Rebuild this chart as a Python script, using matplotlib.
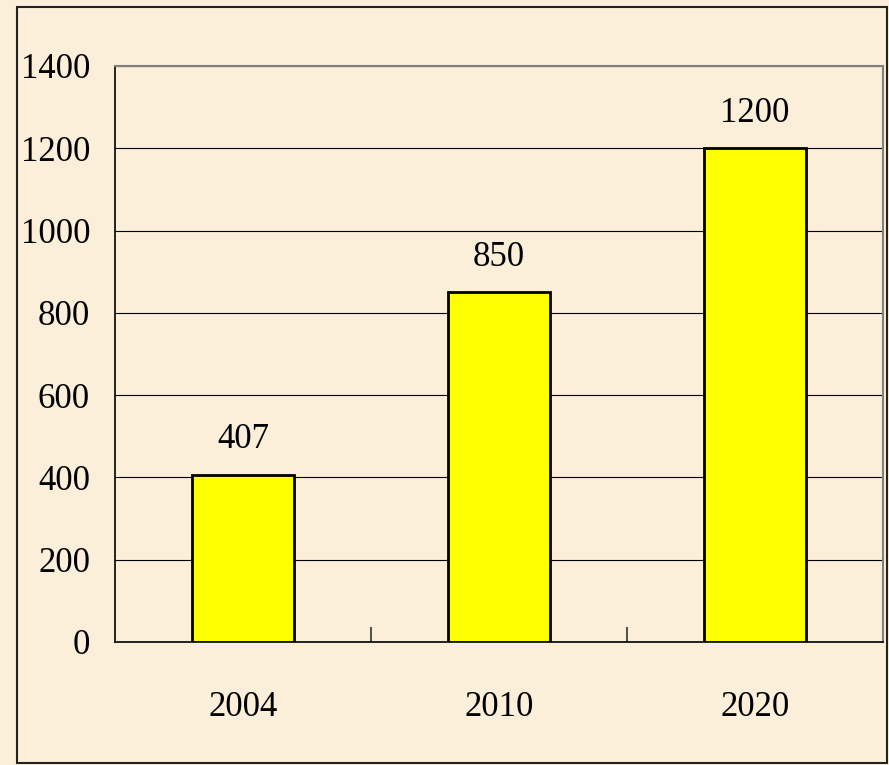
import matplotlib
matplotlib.use("Agg")
import matplotlib.pyplot as plt
from matplotlib.patches import Rectangle
from matplotlib.ticker import FixedLocator

years = ["2004", "2010", "2020"]
values = [407, 850, 1200]
yticks = [0, 200, 400, 600, 800, 1000, 1200, 1400]

bg = "#FBEFD9"
font = "Liberation Serif"
fs = 25

W, H = 889, 765
fig = plt.figure(figsize=(W / 100, H / 100), dpi=100, facecolor=bg)
ax = fig.add_axes([115 / W, (H - 642) / H, (883 - 115) / W, (642 - 66) / H])
ax.set_facecolor(bg)

x = list(range(len(years)))
ax.bar(x, values, width=0.4, color="#FFFF00", edgecolor="black", linewidth=2.0, zorder=3)

ax.set_xlim(-0.5, len(years) - 0.5)
ax.set_ylim(0, 1400)
ax.set_yticks(yticks)
ax.set_yticklabels([str(v) for v in yticks], family=font, fontsize=fs)
ax.yaxis.grid(True, color="black", linewidth=0.8, zorder=0)
ax.tick_params(axis="y", length=0, pad=18)

ax.set_xticks(x)
ax.set_xticklabels(years, family=font, fontsize=fs)
ax.tick_params(axis="x", which="major", length=0, pad=35)
ax.xaxis.set_minor_locator(FixedLocator([0.5, 1.5, 2.5]))
ax.tick_params(axis="x", which="minor", direction="in", length=11, width=1.2, color="#333333")

for s in ["left", "bottom"]:
    ax.spines[s].set_color("black")
    ax.spines[s].set_linewidth(1.2)
for s in ["top", "right"]:
    ax.spines[s].set_color("#808080")
    ax.spines[s].set_linewidth(1.5)

for xi, v in zip(x, values):
    ax.annotate(str(v), (xi, v), xytext=(0, 13), textcoords="offset points",
                ha="center", va="bottom", family=font, fontsize=fs)

fig.patches.append(Rectangle((17 / W, 2 / H), (887 - 17) / W, (758 - 2) / H,
                             transform=fig.transFigure, fill=False,
                             edgecolor="#222222", linewidth=1.5))

fig.savefig("out.png", dpi=100, facecolor=bg)
